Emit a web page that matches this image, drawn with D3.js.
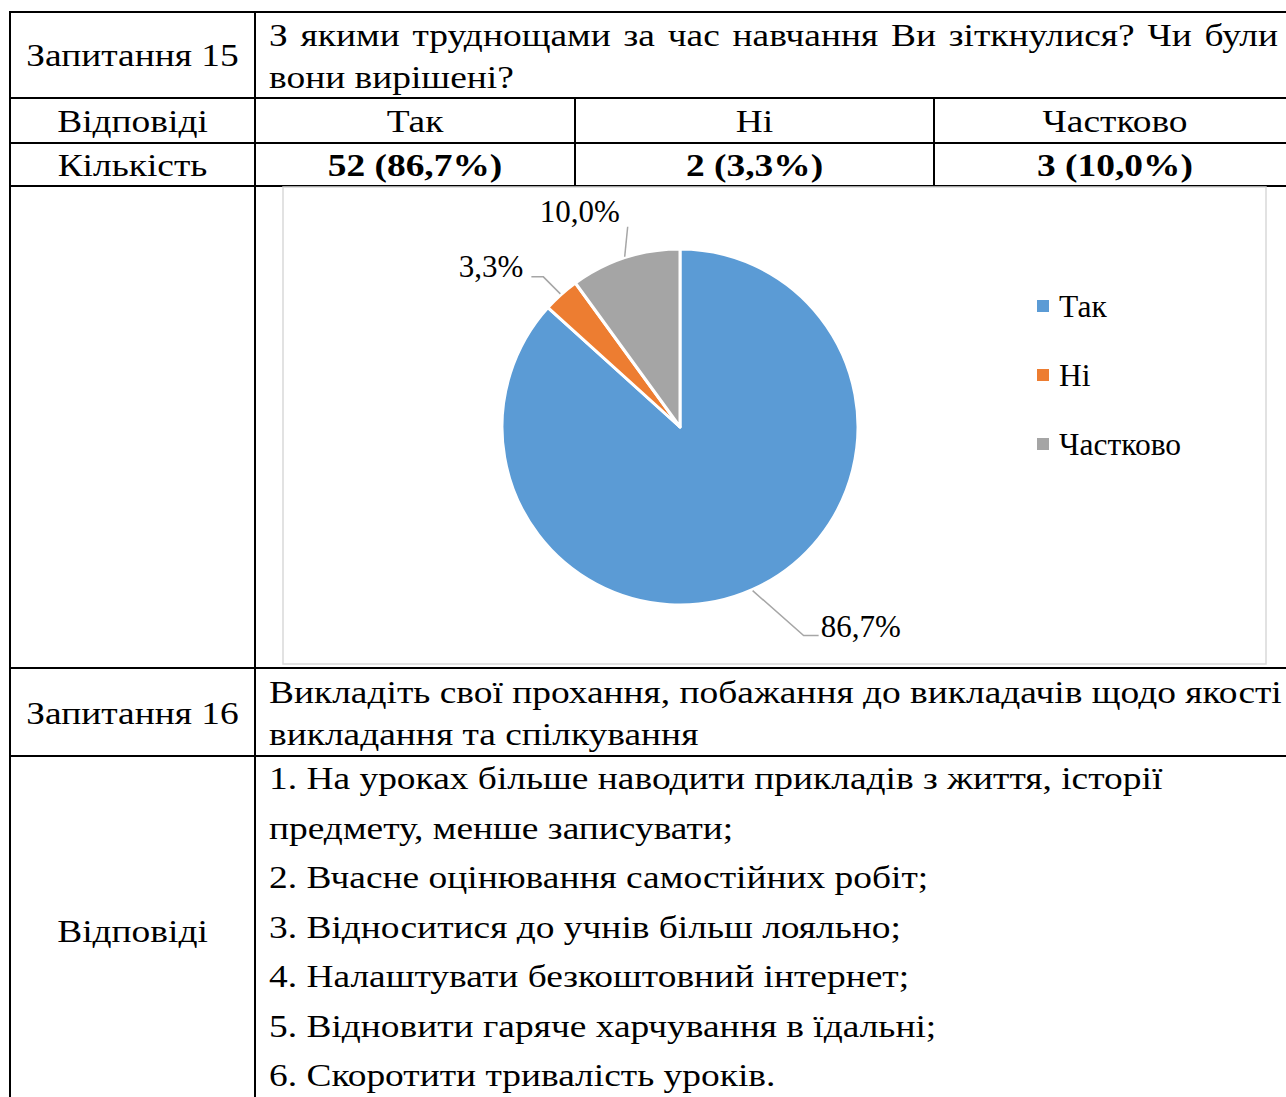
<!DOCTYPE html>
<html>
<head>
<meta charset="utf-8">
<script src="https://cdn.jsdelivr.net/npm/d3@7"></script>
<style>
  body { margin: 0; background: #fff; }
  svg text { font-family: "Liberation Serif", "Times New Roman", serif; fill: #000; }
</style>
</head>
<body>
<svg id="page" width="1286" height="1097"></svg>
<script>
// data
const answers = ["Так", "Ні", "Частково"];
const counts = ["52 (86,7%)", "2 (3,3%)", "3 (10,0%)"];
const percents = [86.7, 3.3, 10.0];
const pctLabels = ["86,7%", "3,3%", "10,0%"];
const colors = ["#5B9BD5", "#ED7D31", "#A5A5A5"];

const q15 = "Запитання 15";
const q15Text = ["З якими труднощами за час навчання Ви зіткнулися? Чи були", "вони вирішені?"];
const q16 = "Запитання 16";
const q16Text = ["Викладіть свої прохання, побажання до викладачів щодо якості", "викладання та спілкування"];
const q16Answers = [
  "1. На уроках більше наводити прикладів з життя, історії",
  "предмету, менше записувати;",
  "2. Вчасне оцінювання самостійних робіт;",
  "3. Відноситися до учнів більш лояльно;",
  "4. Налаштувати безкоштовний інтернет;",
  "5. Відновити гаряче харчування в їдальні;",
  "6. Скоротити тривалість уроків."
];
const rowLabelAnswers = "Відповіді";
const rowLabelCount = "Кількість";

let svg = d3.select("#page");
let fontSize = 32;
let stretch = 1.17; // table text is drawn a bit wider than the font's own shape

// table grid
let left = 10, col1 = 255, right = 1296;
let colX = [col1, 575, 934, right];
let rowsY = [12, 98, 143, 186, 668, 756, 1110];

let grid = svg.append("g").attr("stroke", "#000").attr("stroke-width", 2);
rowsY.forEach((y) => {
  grid.append("line").attr("x1", left - 1).attr("x2", right).attr("y1", y).attr("y2", y);
});
grid.append("line").attr("x1", left).attr("x2", left).attr("y1", rowsY[0]).attr("y2", rowsY[6]);
grid.append("line").attr("x1", col1).attr("x2", col1).attr("y1", rowsY[0]).attr("y2", rowsY[6]);
[colX[1], colX[2]].forEach((x) => {
  grid.append("line").attr("x1", x).attr("x2", x).attr("y1", rowsY[1]).attr("y2", rowsY[3]);
});

let labelX = (left + col1) / 2;
let textX = 269;

let addText = (str, x, y, anchor, weight) => {
  return svg.append("text")
    .attr("transform", "translate(" + x + "," + y + ") scale(" + stretch + ",1)")
    .attr("text-anchor", anchor || "start")
    .attr("font-size", fontSize)
    .attr("font-weight", weight || "normal")
    .text(str);
};

// justify a line between x0 and x1 with word-spacing
let justify = (str, x0, x1, y) => {
  let t = addText(str, x0, y);
  let natural = t.node().getComputedTextLength();
  let gaps = str.split(" ").length - 1;
  let extra = ((x1 - x0) / stretch - natural) / gaps;
  if (gaps > 0 && extra > 0) t.style("word-spacing", extra + "px");
  return t;
};

// question 15
addText(q15, labelX, 66, "middle");
justify(q15Text[0], textX, 1278, 46);
addText(q15Text[1], textX, 88);

// answers and counts
addText(rowLabelAnswers, labelX, 132, "middle");
addText(rowLabelCount, labelX, 176, "middle");
answers.forEach((a, i) => {
  let cx = (colX[i] + colX[i + 1]) / 2;
  addText(a, cx, 132, "middle");
  addText(counts[i], cx, 176, "middle", "bold");
});

// question 16
addText(q16, labelX, 724, "middle");
justify(q16Text[0], textX, 1279, 703);
addText(q16Text[1], textX, 745);

addText(rowLabelAnswers, labelX, 942, "middle");
q16Answers.forEach((line, i) => {
  addText(line, textX, 789 + i * 49.5);
});

// chart area
let box = { x: 283, y: 187, w: 983, h: 477 };
svg.append("rect")
  .attr("x", box.x).attr("y", box.y).attr("width", box.w).attr("height", box.h)
  .attr("fill", "#fff").attr("stroke", "#d9d9d9").attr("stroke-width", 1.5);

let cx = 680, cy = 427, radius = 178;
let pie = d3.pie().sort(null).value((d) => d);
let arcs = pie(percents);
let arc = d3.arc().innerRadius(0).outerRadius(radius);

let chart = svg.append("g").attr("transform", "translate(" + cx + "," + cy + ")");
chart.selectAll("path")
  .data(arcs)
  .enter()
  .append("path")
  .attr("d", arc)
  .attr("fill", (d, i) => colors[i])
  .attr("stroke", "#fff")
  .attr("stroke-width", 3)
  .attr("stroke-linejoin", "round");

// leader lines: from slice edge, elbow offset, then short horizontal tail
let leaders = [
  { elbow: [51, 45], tail: 15, anchor: "start", dx: 2, dy: 1.5 },
  { elbow: [-17, -17], tail: -12, anchor: "end", dx: -8, dy: 0.5 },
  { elbow: [3, -30], tail: 0, anchor: "middle", dx: -48, dy: -5 }
];
let labelFont = 31;

arcs.forEach((d, i) => {
  let mid = (d.startAngle + d.endAngle) / 2;
  let sx = (radius + 1) * Math.sin(mid);
  let sy = -(radius + 1) * Math.cos(mid);
  let L = leaders[i];
  let ex = sx + L.elbow[0], ey = sy + L.elbow[1];
  let tx = ex + L.tail;
  chart.append("polyline")
    .attr("points", [[sx, sy], [ex, ey], [tx, ey]].map((p) => p.join(",")).join(" "))
    .attr("fill", "none")
    .attr("stroke", "#a6a6a6")
    .attr("stroke-width", 1.5);
  chart.append("text")
    .attr("x", tx + L.dx)
    .attr("y", ey + L.dy)
    .attr("text-anchor", L.anchor)
    .attr("font-size", labelFont)
    .text(pctLabels[i]);
});

// legend
let legend = svg.append("g").attr("transform", "translate(1037,300)");
answers.forEach((a, i) => {
  let g = legend.append("g").attr("transform", "translate(0," + i * 69 + ")");
  g.append("rect").attr("width", 12).attr("height", 12).attr("fill", colors[i]);
  g.append("text").attr("x", 22).attr("y", 17).attr("font-size", 31.5).text(a);
});
</script>
</body>
</html>
